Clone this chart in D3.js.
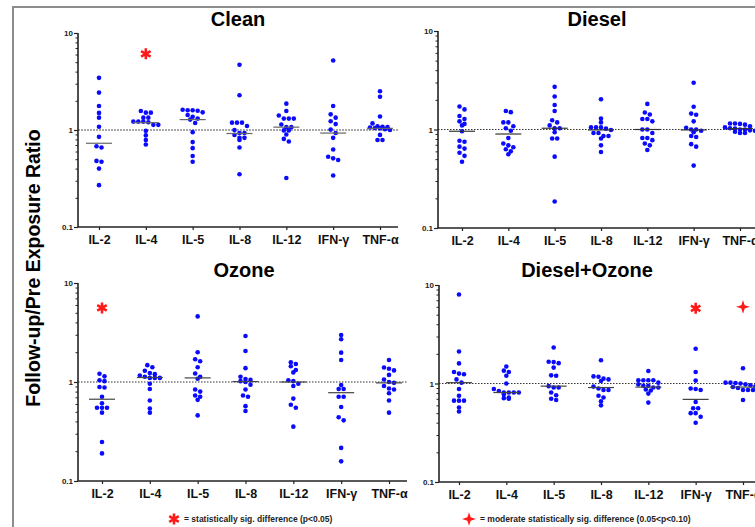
<!DOCTYPE html>
<html>
<head>
<meta charset="utf-8">
<script src="https://cdn.jsdelivr.net/npm/d3@7"></script>
<style>
  body { margin: 0; background: #fff; }
  text { font-family: "Liberation Sans", Arial, sans-serif; }
</style>
</head>
<body>
<svg id="chart" width="755" height="527"></svg>
<script>

// categories and axis ticks
var cytokines = ["IL-2", "IL-4", "IL-5", "IL-8", "IL-12", "IFN-γ", "TNF-α"];
var majorTicks = [0.1, 1, 10];
var minorTicks = [0.2, 0.3, 0.4, 0.5, 0.6, 0.7, 0.8, 0.9, 2, 3, 4, 5, 6, 7, 8, 9];

// follow-up / pre exposure ratios, one list per cytokine
var cleanValues = [
    [3.45, 2.43, 1.77, 1.50, 1.34, 1.08, 0.85, 0.68, 0.66, 0.48, 0.47, 0.40, 0.27],
    [1.51, 1.51, 1.57, 1.34, 1.34, 1.22, 1.22, 1.20, 1.22, 1.13, 1.13, 0.98, 0.88, 0.79, 0.71],
    [1.62, 1.60, 1.58, 1.52, 1.60, 1.43, 1.37, 1.28, 1.31, 1.18, 0.95, 0.75, 0.65, 0.54, 0.47],
    [4.70, 2.28, 1.19, 1.19, 1.19, 1.10, 1.00, 0.93, 0.93, 0.89, 0.83, 0.83, 0.79, 0.66, 0.35],
    [1.87, 1.57, 1.41, 1.31, 1.31, 1.31, 1.14, 1.07, 1.07, 0.99, 0.99, 0.90, 0.81, 0.76, 0.32],
    [5.20, 1.77, 1.45, 1.34, 1.23, 1.15, 1.01, 0.93, 0.83, 0.63, 0.51, 0.53, 0.49, 0.34],
    [2.51, 2.20, 1.38, 1.17, 1.08, 1.07, 1.05, 1.02, 1.00, 1.04, 1.06, 1.09, 0.89, 0.79, 0.79]
];
var cleanMedians = [0.73, 1.19, 1.28, 0.92, 1.07, 0.93, 1.04];

var dieselValues = [
    [1.71, 1.60, 1.37, 1.28, 1.21, 1.14, 1.10, 0.96, 0.77, 0.75, 0.67, 0.64, 0.58, 0.54, 0.47],
    [1.54, 1.50, 1.18, 1.18, 1.08, 1.03, 0.97, 0.82, 0.72, 0.69, 0.66, 0.63, 0.60, 0.56],
    [2.71, 2.16, 1.77, 1.54, 1.24, 1.18, 1.10, 1.03, 1.03, 0.94, 0.81, 0.81, 0.53, 0.186],
    [2.03, 1.29, 1.18, 1.05, 1.05, 1.05, 1.02, 0.99, 0.92, 0.92, 0.86, 0.86, 0.81, 0.69, 0.59],
    [1.82, 1.49, 1.42, 1.28, 1.28, 1.21, 1.00, 1.00, 0.92, 0.82, 0.82, 0.78, 0.72, 0.69, 0.62],
    [2.98, 1.70, 1.45, 1.41, 1.21, 1.04, 0.97, 0.94, 1.00, 0.86, 0.84, 0.71, 0.67, 0.43, 1.00],
    [1.15, 1.15, 1.14, 1.12, 1.08, 1.05, 1.03, 1.02, 1.00, 1.00, 0.98, 0.97, 0.95, 0.92, 0.92]
];
var dieselMedians = [0.96, 0.90, 1.03, 0.99, 1.00, 0.99, 1.02];

var ozoneValues = [
    [1.21, 1.14, 1.02, 1.04, 0.89, 0.88, 0.71, 0.61, 0.55, 0.55, 0.55, 0.49, 0.248, 0.19],
    [1.48, 1.41, 1.30, 1.23, 1.20, 1.16, 1.10, 1.10, 1.10, 0.96, 0.85, 0.65, 0.54, 0.49, 1.13],
    [4.60, 2.00, 1.70, 1.62, 1.41, 1.22, 1.13, 1.08, 0.84, 0.80, 0.73, 0.71, 0.66, 0.46],
    [2.92, 2.06, 1.38, 1.13, 1.07, 1.05, 1.02, 1.00, 0.94, 0.84, 0.73, 0.71, 0.57, 0.51],
    [1.58, 1.52, 1.44, 1.32, 1.25, 1.04, 1.02, 0.96, 0.91, 0.68, 0.59, 0.55, 0.354],
    [2.98, 2.70, 1.98, 1.67, 0.93, 0.85, 0.85, 0.71, 0.71, 0.56, 0.44, 0.41, 0.216, 0.158],
    [1.67, 1.40, 1.36, 1.31, 1.18, 1.06, 1.00, 0.98, 0.91, 0.86, 0.84, 0.77, 0.65, 0.49]
];
var ozoneMedians = [0.67, 1.11, 1.10, 1.01, 1.00, 0.78, 0.98];

var dieselOzoneValues = [
    [8.00, 2.11, 1.60, 1.26, 1.24, 1.31, 1.10, 1.02, 0.88, 0.75, 0.67, 0.67, 0.67, 0.57, 0.52],
    [1.49, 1.35, 1.31, 1.20, 1.00, 0.88, 0.84, 0.81, 0.81, 0.81, 0.81, 0.78, 0.72, 0.70, 0.71],
    [2.32, 1.65, 1.66, 1.61, 1.45, 1.21, 1.20, 0.94, 0.91, 0.91, 0.81, 0.76, 0.70, 0.68],
    [1.72, 1.17, 1.18, 1.10, 1.06, 1.12, 0.93, 0.89, 0.86, 0.86, 0.75, 0.72, 0.66, 0.60],
    [1.34, 1.08, 1.08, 1.08, 1.08, 1.02, 0.98, 0.95, 0.95, 0.91, 0.91, 0.87, 0.85, 0.79, 0.64],
    [2.25, 1.31, 1.07, 0.88, 0.89, 0.86, 0.65, 0.56, 0.56, 0.50, 0.50, 0.46, 0.40],
    [1.43, 1.02, 1.02, 1.00, 1.01, 0.98, 0.96, 0.94, 0.94, 0.92, 0.90, 0.86, 0.86, 0.86, 0.68]
];
var dieselOzoneMedians = [1.02, 0.81, 0.94, 0.91, 0.92, 0.69, 0.92];

// significance marks: [cytokine, height on the ratio axis, kind]
var cleanMarks = [["IL-4", 6.1, "star"]];
var dieselMarks = [];
var ozoneMarks = [["IL-2", 5.6, "star"]];
var dieselOzoneMarks = [["IFN-γ", 5.8, "star"], ["TNF-α", 6.0, "cross"]];

var panelTitles = ["Clean", "Diesel", "Ozone", "Diesel+Ozone"];
var legendLabels = ["= statistically sig. difference (p<0.05)",
                    "= moderate statistically sig. difference (0.05<p<0.10)"];


// layout of the four panels (pixels)
var boxes = [
    {axisX: 78,  xEnd: 398, first: 99,  last: 380, yTop: 33,  yBot: 227, titleX: 238, titleY: 26,  refColor: "#a8a8a8", refWidth: 2,   medColor: "#666"},
    {axisX: 438, xEnd: 760, first: 462, last: 740, yTop: 31,  yBot: 228, titleX: 597, titleY: 26,  refColor: "#333",    refWidth: 1.2, medColor: "#333"},
    {axisX: 78,  xEnd: 407, first: 102, last: 389, yTop: 283, yBot: 481, titleX: 244, titleY: 277, refColor: "#333",    refWidth: 1.2, medColor: "#444"},
    {axisX: 439, xEnd: 760, first: 459, last: 743, yTop: 285, yBot: 482, titleX: 587, titleY: 277, refColor: "#333",    refWidth: 1.2, medColor: "#444"}
];

var panels = [
    {values: cleanValues, medians: cleanMedians, marks: cleanMarks},
    {values: dieselValues, medians: dieselMedians, marks: dieselMarks},
    {values: ozoneValues, medians: ozoneMedians, marks: ozoneMarks},
    {values: dieselOzoneValues, medians: dieselOzoneMedians, marks: dieselOzoneMarks}
];

var dotColor = "#0a0aff";
var markColor = "#ff1a1a";

// 4 pointed star for the "moderate" mark
var symbolCross4 = {
    draw: function(context, size) {
        var r = Math.sqrt(size) * 0.75;
        var k = r * 0.24;
        context.moveTo(0, -r);
        context.lineTo(k, -k);
        context.lineTo(r, 0);
        context.lineTo(k, k);
        context.lineTo(0, r);
        context.lineTo(-k, k);
        context.lineTo(-r, 0);
        context.lineTo(-k, -k);
        context.closePath();
    }
};

var svg = d3.select("#chart");

// grey frame round the figure
svg.append("path")
    .attr("d", "M13,527V7H755")
    .attr("fill", "none")
    .attr("stroke", "#8c8c8c")
    .attr("stroke-width", 2);

// y axis title
svg.append("text")
    .attr("transform", "translate(40,268) rotate(-90)")
    .attr("text-anchor", "middle")
    .style("font-size", "19.5px")
    .style("font-weight", "bold")
    .text("Follow-up/Pre Exposure Ratio");


// spread points of one column like a prism scatter (rows of close values side by side)
function swarm(vals, y) {
    var pts = vals.map(function(v) { return {v: v, py: y(v)}; });
    pts.sort(function(a, b) { return a.py - b.py; });
    var rows = [];
    pts.forEach(function(p) {
        var row = rows[rows.length - 1];
        if (row && p.py - row[0].py < 3.8) {
            row.push(p);
        } else {
            rows.push([p]);
        }
    });
    rows.forEach(function(row) {
        row.forEach(function(p, i) {
            p.dx = (i - (row.length - 1) / 2) * 5;
        });
    });
    return pts;
}


function drawMark(g, kind, cx, cy) {
    if (kind == "star") {
        g.append("path")
            .attr("transform", "translate(" + cx + "," + cy + ")")
            .attr("d", d3.symbol().type(d3.symbolAsterisk).size(85)())
            .attr("fill", "none")
            .attr("stroke", markColor)
            .attr("stroke-width", 2.6);
    } else {
        g.append("path")
            .attr("transform", "translate(" + cx + "," + cy + ")")
            .attr("d", d3.symbol().type(symbolCross4).size(84)())
            .attr("fill", markColor);
    }
}


function drawPanel(panel, box, title) {

    var g = svg.append("g");

    var x = d3.scalePoint()
        .domain(cytokines)
        .range([box.first, box.last]);

    var y = d3.scaleLog()
        .domain([0.1, 10])
        .range([box.yBot, box.yTop]);

    // reference line at ratio 1
    g.append("line")
        .attr("x1", box.axisX)
        .attr("x2", box.xEnd)
        .attr("y1", y(1))
        .attr("y2", y(1))
        .attr("stroke", box.refColor)
        .attr("stroke-width", box.refWidth)
        .attr("stroke-dasharray", box.refWidth > 1.5 ? "2,1" : "1.5,1.5");

    // minor ticks
    var minorAxis = g.append("g")
        .attr("transform", "translate(" + box.axisX + ",0)")
        .call(d3.axisLeft(y).tickValues(minorTicks).tickSize(2.5).tickFormat(""));
    minorAxis.select(".domain").remove();
    minorAxis.selectAll("line").attr("stroke", "#222").attr("stroke-width", 1);

    // major ticks + labels
    var yAxis = g.append("g")
        .attr("transform", "translate(" + box.axisX + ",0)")
        .call(d3.axisLeft(y).tickValues(majorTicks).tickSize(4).tickPadding(1).tickFormat(d3.format("")));
    yAxis.select(".domain").remove();
    yAxis.selectAll("line").attr("stroke", "#222").attr("stroke-width", 1.2);
    yAxis.selectAll("text")
        .style("font-family", "'Liberation Sans', Arial, sans-serif")
        .style("font-size", "8px")
        .style("font-weight", "bold")
        .attr("fill", "#222");

    // x axis ticks + labels
    var xAxis = g.append("g")
        .attr("transform", "translate(0," + box.yBot + ")")
        .call(d3.axisBottom(x).tickSize(3).tickPadding(5));
    xAxis.select(".domain").remove();
    xAxis.selectAll("line").attr("stroke", "#222").attr("stroke-width", 1.2);
    xAxis.selectAll("text")
        .style("font-family", "'Liberation Sans', Arial, sans-serif")
        .style("font-size", "12.5px")
        .style("font-weight", "bold")
        .attr("fill", "#111");

    // axis lines
    g.append("line")
        .attr("x1", box.axisX).attr("x2", box.axisX)
        .attr("y1", box.yTop).attr("y2", box.yBot)
        .attr("stroke", "#222").attr("stroke-width", 1.6);
    g.append("line")
        .attr("x1", box.axisX).attr("x2", box.xEnd)
        .attr("y1", box.yBot).attr("y2", box.yBot)
        .attr("stroke", "#222").attr("stroke-width", 1.6);

    // points
    panel.values.forEach(function(vals, i) {
        var cx = x(cytokines[i]);
        var pts = swarm(vals, y);
        g.selectAll(null)
            .data(pts)
            .enter()
            .append("circle")
            .attr("cx", function(d) { return cx + d.dx; })
            .attr("cy", function(d) { return d.py; })
            .attr("r", 2.3)
            .attr("fill", dotColor);
    });

    // medians
    g.selectAll(null)
        .data(panel.medians)
        .enter()
        .append("line")
        .attr("x1", function(d, i) { return x(cytokines[i]) - 13; })
        .attr("x2", function(d, i) { return x(cytokines[i]) + 13; })
        .attr("y1", function(d) { return y(d); })
        .attr("y2", function(d) { return y(d); })
        .attr("stroke", box.medColor)
        .attr("stroke-width", 1.2);

    // significance marks
    panel.marks.forEach(function(m) {
        drawMark(g, m[2], x(m[0]), y(m[1]));
    });

    // title
    g.append("text")
        .attr("x", box.titleX)
        .attr("y", box.titleY)
        .attr("text-anchor", "middle")
        .style("font-size", "20px")
        .style("font-weight", "bold")
        .text(title);
}

panels.forEach(function(p, i) {
    drawPanel(p, boxes[i], panelTitles[i]);
});


// legend at the bottom
var legend = svg.append("g");
drawMark(legend, "star", 174, 519);
drawMark(legend, "cross", 469, 519);
legend.append("text")
    .attr("x", 184).attr("y", 522)
    .style("font-size", "8.5px").style("font-weight", "bold").attr("fill", "#222")
    .text(legendLabels[0]);
legend.append("text")
    .attr("x", 480).attr("y", 522)
    .style("font-size", "8.5px").style("font-weight", "bold").attr("fill", "#222")
    .text(legendLabels[1]);

</script>
</body>
</html>
